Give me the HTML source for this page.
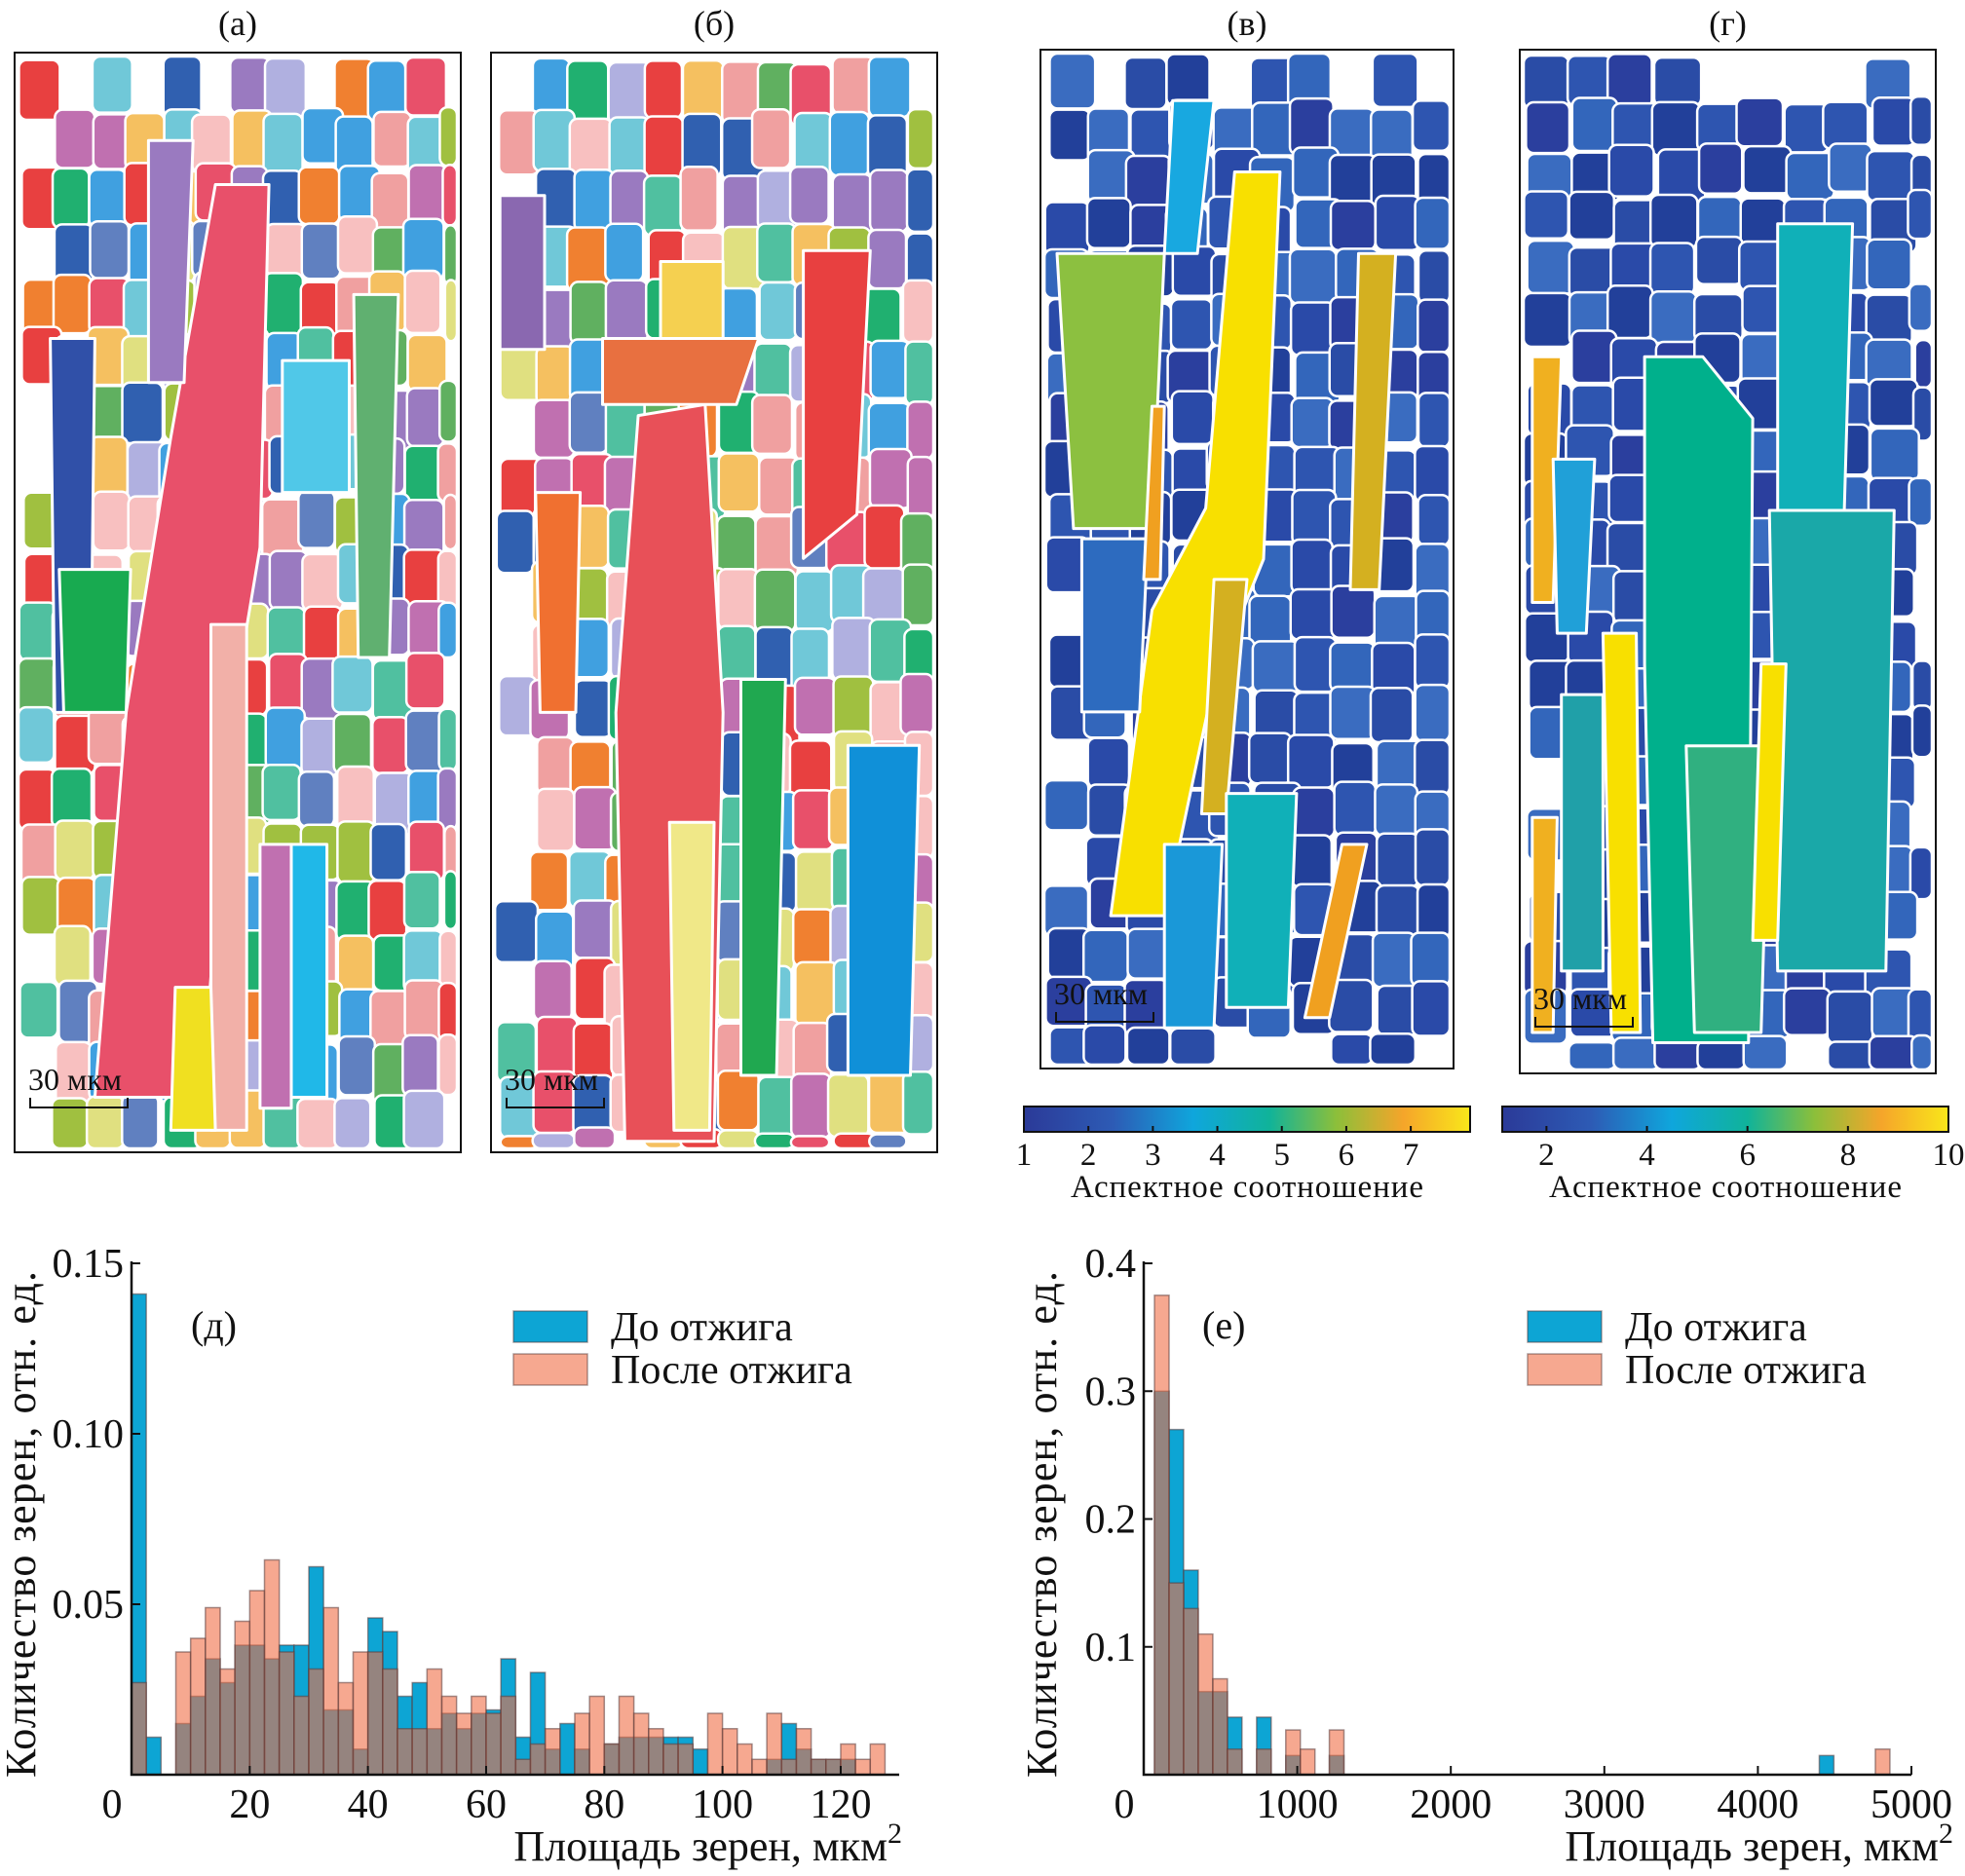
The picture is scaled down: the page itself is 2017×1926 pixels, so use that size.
<!DOCTYPE html>
<html><head><meta charset="utf-8">
<style>
html,body{margin:0;padding:0;background:#fff;}
svg{display:block;font-family:"Liberation Serif",serif;}
</style></head>
<body>
<svg id="fig" width="2017" height="1926" viewBox="0 0 2017 1926" xmlns="http://www.w3.org/2000/svg">
<defs>
<linearGradient id="cb1" x1="0" x2="1" y1="0" y2="0">
<stop offset="0" stop-color="#2b3a98"/><stop offset="0.2" stop-color="#2d5bb5"/><stop offset="0.38" stop-color="#0fa6dc"/><stop offset="0.55" stop-color="#10b39a"/><stop offset="0.7" stop-color="#8cbf3a"/><stop offset="0.85" stop-color="#f5a52a"/><stop offset="1" stop-color="#f9e71a"/>
</linearGradient>
</defs>
<g id="maps"></g>
<g id="colorbars"></g>
<g id="histD"></g>
<g id="histE"></g>
</svg>
<script>
// ---------- Histogram (д) data ----------
const dBinWidth = 2.5;
const dBefore = [0.141,0.011,0,0.015,0.023,0.034,0.027,0.038,0.038,0.034,0.038,0.038,0.061,0.019,0.019,0.0075,0.046,0.042,0.023,0.027,0.0135,0.018,0.0135,0.018,0.019,0.034,0.011,0.030,0.0075,0.015,0.0075,0,0.009,0.011,0.011,0.011,0.011,0.011,0.0075,0,0,0,0,0.0045,0.015,0.0075,0.0045,0.0045,0.0045,0,0];
const dAfter  = [0.027,0,0,0.036,0.040,0.049,0.031,0.045,0.054,0.063,0.036,0.023,0.031,0.049,0.027,0.036,0.036,0.031,0.0135,0.0135,0.031,0.023,0.018,0.023,0.018,0.023,0.0045,0.009,0.0135,0,0.018,0.023,0.009,0.023,0.018,0.0135,0.009,0.009,0,0.018,0.0135,0.009,0.0045,0.018,0.0045,0.0135,0.0045,0.0045,0.009,0.0045,0.009];
const dXTicks = [0,20,40,60,80,100,120];
const dYTicks = [0.05,0.10,0.15];
const dYLabels = ["0.05","0.10","0.15"];
// ---------- Histogram (е) data ----------
const eBinWidth = 95;
const eBinStarts = [70,165,260,355,450,545,735,925,1020,1209,4400,4765];
const eBefore = [0.30,0.27,0.16,0.065,0.065,0.045,0.045,0.015,0,0.015,0.015,0];
const eAfter  = [0.375,0.15,0.13,0.11,0.075,0.02,0.02,0.035,0.02,0.035,0,0.02];
const eXTicks = [0,1000,2000,3000,4000,5000];
const eYTicks = [0.1,0.2,0.3,0.4];
const eYLabels = ["0.1","0.2","0.3","0.4"];
// ---------- Colorbar ticks ----------
const cb1Ticks = [1,2,3,4,5,6,7];
const cb2Ticks = [2,4,6,8,10];

const NS="http://www.w3.org/2000/svg";
function mk(tag,attrs,parent){const e=document.createElementNS(NS,tag);for(const k in attrs)e.setAttribute(k,attrs[k]);parent.appendChild(e);return e;}

// ---------- grain maps ----------
let seed=12345;
function rnd(){seed=(seed*1103515245+12345)&0x7fffffff;return seed/0x7fffffff;}
const maps=document.getElementById('maps');
const palA=["#e8506a","#f08030","#9a7ac0","#60b060","#40a0e0","#f0a0a0","#3060b0","#20b070","#f5c060","#c070b0","#70c8d8","#a0c040","#e84040","#b0b0e0","#f8c0c0","#50c0a0","#6080c0","#e0e080"];
const palBlue=["#2b3f9e","#2e55b0","#2a4aa8","#3366bb","#22409a","#2a4ca6","#3a6cc0"];
const panels=[
 {n:'a',x:15,y:54,w:458,h:1129,t:"(а)",pal:palA,cw:36,ch:56,feat:[
  ["#e8506a",[[.45,.12],[.57,.12],[.55,.45],[.48,.62],[.42,.95],[.18,.95],[.25,.6],[.35,.35]]],
  ["#f2b0a8",[[.44,.52],[.52,.52],[.52,.98],[.44,.98]]],
  ["#3050a8",[[.08,.26],[.18,.26],[.17,.6],[.09,.6]]],
  ["#18aa50",[[.1,.47],[.26,.47],[.25,.6],[.11,.6]]],
  ["#f0e020",[[.36,.85],[.44,.85],[.45,.98],[.35,.98]]],
  ["#c070b0",[[.55,.72],[.62,.72],[.62,.96],[.55,.96]]],
  ["#20b8e8",[[.62,.72],[.7,.72],[.7,.95],[.62,.95]]],
  ["#60b070",[[.76,.22],[.86,.22],[.84,.55],[.77,.55]]],
  ["#9a7ac0",[[.3,.08],[.4,.08],[.38,.3],[.3,.3]]],
  ["#50c8e8",[[.6,.28],[.75,.28],[.75,.4],[.6,.4]]]]},
 {n:'b',x:504,y:54,w:458,h:1129,t:"(б)",pal:palA,cw:38,ch:58,feat:[
  ["#e85058",[[.33,.33],[.48,.32],[.52,.6],[.5,.99],[.3,.99],[.28,.6]]],
  ["#e84040",[[.7,.18],[.85,.18],[.82,.42],[.7,.46]]],
  ["#f5d050",[[.38,.19],[.52,.19],[.52,.3],[.38,.3]]],
  ["#f0e888",[[.4,.7],[.5,.7],[.49,.98],[.41,.98]]],
  ["#20a850",[[.56,.57],[.66,.57],[.64,.93],[.56,.93]]],
  ["#1090d8",[[.8,.63],[.96,.63],[.94,.93],[.8,.93]]],
  ["#f07030",[[.1,.4],[.2,.4],[.19,.6],[.11,.6]]],
  ["#e87040",[[.25,.26],[.6,.26],[.55,.32],[.25,.32]]],
  ["#8a68b0",[[.02,.13],[.12,.13],[.12,.27],[.02,.27]]]]},
 {n:'c',x:1068,y:51,w:424,h:1046,t:"(в)",pal:palBlue,cw:42,ch:50,feat:[
  ["#f8e000",[[.47,.12],[.58,.12],[.54,.5],[.42,.62],[.3,.85],[.17,.85],[.27,.55],[.4,.45]]],
  ["#d4b020",[[.77,.2],[.86,.2],[.82,.53],[.75,.53]]],
  ["#d4b020",[[.42,.52],[.5,.52],[.45,.75],[.39,.75]]],
  ["#8cc040",[[.04,.2],[.3,.2],[.27,.47],[.08,.47]]],
  ["#10b0b8",[[.45,.73],[.62,.73],[.6,.94],[.45,.94]]],
  ["#1a98d8",[[.3,.78],[.44,.78],[.42,.96],[.3,.96]]],
  ["#f0a020",[[.73,.78],[.79,.78],[.7,.95],[.64,.95]]],
  ["#18a8e0",[[.32,.05],[.42,.05],[.38,.2],[.3,.2]]],
  ["#2d6bbf",[[.1,.48],[.26,.48],[.24,.65],[.1,.65]]],
  ["#f0a020",[[.27,.35],[.3,.35],[.29,.52],[.25,.52]]]]},
 {n:'d',x:1560,y:51,w:427,h:1051,t:"(г)",pal:palBlue,cw:44,ch:48,feat:[
  ["#00b08c",[[.3,.3],[.44,.3],[.56,.36],[.55,.97],[.32,.97],[.3,.6]]],
  ["#10b0b8",[[.62,.17],[.8,.17],[.78,.45],[.62,.45]]],
  ["#1aa8a8",[[.6,.45],[.9,.45],[.88,.9],[.62,.9]]],
  ["#30b080",[[.4,.68],[.6,.68],[.58,.96],[.42,.96]]],
  ["#f8e000",[[.2,.57],[.28,.57],[.29,.96],[.22,.96]]],
  ["#f8e000",[[.58,.6],[.64,.6],[.62,.87],[.56,.87]]],
  ["#f0b020",[[.03,.3],[.1,.3],[.08,.54],[.03,.54]]],
  ["#f0b020",[[.03,.75],[.09,.75],[.08,.96],[.03,.96]]],
  ["#20a0d8",[[.08,.4],[.18,.4],[.16,.57],[.09,.57]]],
  ["#20a0a8",[[.1,.63],[.2,.63],[.2,.9],[.1,.9]]]]}
];
panels.forEach(p=>{
 const g=mk('g',{},maps);
 
 
 const cols=Math.ceil(p.w/p.cw), rows=Math.ceil(p.h/p.ch);
 for(let r=0;r<rows;r++)for(let c=0;c<cols;c++){
   const edge=(c===0||c===cols-1||r===0||r===rows-1);
   if(edge&&rnd()<0.3){rnd();rnd();continue;}
   const jx=(rnd()-0.5)*8, jy=(rnd()-0.5)*12;
   let x=p.x+6+c*p.cw+jx, y=p.y+6+r*p.ch+jy;
   let w=p.cw+rnd()*6, h=p.ch+rnd()*8;
   x=Math.max(p.x+4,x); y=Math.max(p.y+4,y);
   w=Math.min(w,p.x+p.w-4-x); h=Math.min(h,p.y+p.h-4-y);
   if(w<6||h<6)continue;
   mk('rect',{x:x,y:y,width:w,height:h,rx:8,fill:p.pal[Math.floor(rnd()*p.pal.length)],stroke:'#fff','stroke-width':2.5},g);
 }
 p.feat.forEach(f=>{
   const pts=f[1].map(q=>(p.x+q[0]*p.w).toFixed(1)+','+(p.y+q[1]*p.h).toFixed(1)).join(' ');
   mk('polygon',{points:pts,fill:f[0],stroke:'#fff','stroke-width':3,'stroke-linejoin':'round'},g);
 });
 const fr=mk('rect',{x:p.x,y:p.y,width:p.w,height:p.h,fill:'none',stroke:'#111','stroke-width':2},g);
 
 
 const t=mk('text',{x:p.x+p.w/2,y:36,'font-size':36,'text-anchor':'middle',fill:'#111'},g);
 t.textContent=p.t;
 
 
 const sbY=p.y+p.h-(p.n==='a'||p.n==='b'?54:56);
 const sl=mk('text',{x:p.x+14,y:sbY-10,'font-size':32,fill:'#111'},g);
 sl.textContent="30 мкм";
 
 
 const sb=mk('path',{d:`M${p.x+16} ${sbY-2}v10h100v-10`,fill:'none',stroke:'#111','stroke-width':2},g);
 
 
});

// ---------- colorbars ----------
const cbg=document.getElementById('colorbars');
function colorbar(x0,x1,vmin,vmax,ticks,name){
 const g=mk('g',{},cbg);
 
 
 mk('rect',{x:x0,y:1136,width:x1-x0,height:26,fill:'url(#cb1)',stroke:'#111','stroke-width':2},g);
 const sx=v=>x0+(v-vmin)/(vmax-vmin)*(x1-x0);
 ticks.forEach(v=>{
  mk('line',{x1:sx(v),x2:sx(v),y1:1156,y2:1162,stroke:'#111','stroke-width':2},g);
  const t=mk('text',{x:sx(v),y:1196,'font-size':33,'text-anchor':'middle',fill:'#111'},g);
  t.textContent=v;
  
  
 });
 const t=mk('text',{x:(x0+x1)/2,y:1229,'font-size':33,'text-anchor':'middle',fill:'#111'},g);
 t.textContent="Аспектное соотношение";
 t.setAttribute('textLength','362');
 
 
}
colorbar(1051,1509,1,7.92,cb1Ticks,'colorbar-v');
colorbar(1542,2000,1.12,10,cb2Ticks,'colorbar-g');

// ---------- histograms ----------
const BLUE="rgba(0,160,210,0.95)", ORANGE="rgba(240,110,70,0.6)";
function hist(gid,o){
 const g=document.getElementById(gid);
 const sx=v=>o.x0+(v-o.xmin)/(o.xmax-o.xmin)*(o.x1-o.x0);
 const sy=v=>o.yb-v/o.ymax*(o.yb-o.yt);
 const series=[[o.before,BLUE,'bar-before'],[o.after,ORANGE,'bar-after']];
 series.forEach(s=>{
  s[0].forEach((v,i)=>{
   if(v<=0)return;
   const a=o.starts[i], b=a+o.bw;
   const r=mk('rect',{x:sx(a),y:sy(v),width:sx(b)-sx(a),height:o.yb-sy(v),fill:s[1],stroke:'rgba(90,60,60,0.55)','stroke-width':1.5},g);
   
   
  });
 });
 const ax=mk('path',{d:`M${o.x0} ${o.yt-2}V${o.yb}H${o.x1}`,fill:'none',stroke:'#111','stroke-width':2.5},g);
 
 
 o.yticks.forEach((v,i)=>{
  mk('line',{x1:o.x0,x2:o.x0+9,y1:sy(v),y2:sy(v),stroke:'#111','stroke-width':2},g);
  const t=mk('text',{x:o.x0-8,y:sy(v)+14,'font-size':42,'text-anchor':'end',fill:'#111'},g);
  t.textContent=o.ylabels[i];
  
  
 });
 o.xticks.forEach(v=>{
  if(v!==0)mk('line',{x1:sx(v),x2:sx(v),y1:o.yb,y2:o.yb-9,stroke:'#111','stroke-width':2},g);
  const t=mk('text',{x:v===0?o.x0-20:sx(v),y:o.yb+44,'font-size':42,'text-anchor':'middle',fill:'#111'},g);
  t.textContent=v;
  
  
 });
 const xt=mk('text',{x:o.xtR,y:1910,'font-size':44,'text-anchor':'end',fill:'#111'},g);
 xt.innerHTML='Площадь зерен, мкм<tspan dy="-18" font-size="30">2</tspan>';
 
 
 const yt=mk('text',{x:0,y:0,'font-size':44,'text-anchor':'middle',fill:'#111',transform:`translate(${o.ytX},1565) rotate(-90)`},g);
 yt.textContent="Количество зерен, отн. ед.";
 yt.setAttribute('textLength','520');
 
 
 const pl=mk('text',{x:o.plX,y:1374,'font-size':40,fill:'#111'},g);
 pl.textContent=o.pl;
 
 
 const lg=mk('g',{},g);
 
 
 [[BLUE,"До отжига",1346],[ORANGE,"После отжига",1390]].forEach(e=>{
  mk('rect',{x:o.lgX,y:e[2],width:76,height:32,fill:e[0],stroke:'rgba(90,60,60,0.5)','stroke-width':1.5},lg);
  const t=mk('text',{x:o.lgX+100,y:e[2]+30,'font-size':42,fill:'#111'},lg);
  t.textContent=e[1];
  
  
 });
}
hist('histD',{x0:135,x1:923,xmin:0,xmax:129.9,yt:1297,yb:1822,ymax:0.15,
 starts:dBefore.map((_,i)=>i*dBinWidth),bw:dBinWidth,before:dBefore,after:dAfter,
 xticks:dXTicks,yticks:dYTicks,ylabels:dYLabels,xtR:926,ytX:36,plX:196,pl:"(д)",lgX:527});
hist('histE',{x0:1174,x1:1962,xmin:0,xmax:5000,yt:1297,yb:1822,ymax:0.4,
 starts:eBinStarts,bw:eBinWidth,before:eBefore,after:eAfter,
 xticks:eXTicks,yticks:eYTicks,ylabels:eYLabels,xtR:2005,ytX:1084,plX:1234,pl:"(е)",lgX:1568});
</script>
</body></html>
